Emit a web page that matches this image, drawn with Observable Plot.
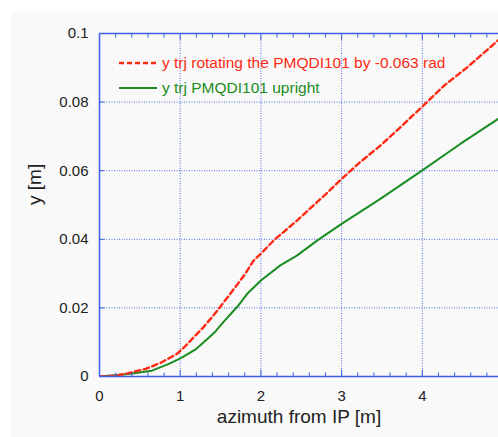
<!DOCTYPE html>
<html><head><meta charset="utf-8">
<script src="https://cdn.jsdelivr.net/npm/d3@7"></script>
<script src="https://cdn.jsdelivr.net/npm/@observablehq/plot@0.6"></script>
<style>
html,body{margin:0;padding:0;background:#fff;overflow:hidden;width:498px;height:437px;}
#wrap{position:relative;width:498px;height:437px;overflow:hidden;}
#panel{position:absolute;left:11px;top:11px;right:0;bottom:0;background:#f9f9f9;}
#chart{position:absolute;left:0;top:0;}
#legend{position:absolute;left:119px;top:50.5px;font:15.5px "Liberation Sans",Arial,sans-serif;}
#legend .row{display:flex;align-items:center;height:25px;white-space:nowrap;}
#legend svg{margin-right:5px;}
</style></head><body>
<div id="wrap"><div id="panel"></div><div id="chart"></div><div id="legend"></div></div>
<script>
// Series: y trajectory rotating the PMQDI101 by -0.063 rad (red dashed)
const redX = [0, 0.2, 0.36, 0.57, 0.76, 0.96, 1.07, 1.19, 1.29, 1.46, 1.62, 1.79, 1.91, 2.0, 2.16, 2.28, 2.45, 2.61, 2.82, 3.0, 3.23, 3.48, 3.73, 4.0, 4.27, 4.56, 4.89, 5.0];
const redY = [0, 0.0002, 0.001, 0.0022, 0.004, 0.0066, 0.009, 0.012, 0.0144, 0.0192, 0.0241, 0.0294, 0.0338, 0.0358, 0.0397, 0.0421, 0.0455, 0.049, 0.0535, 0.0576, 0.0625, 0.0673, 0.0727, 0.0787, 0.0848, 0.0902, 0.097, 0.0993];
// Series: y trajectory PMQDI101 upright (green solid)
const greenX = [0, 0.36, 0.65, 0.86, 1.02, 1.19, 1.35, 1.44, 1.54, 1.71, 1.83, 2.0, 2.24, 2.45, 2.7, 3.0, 3.48, 4.0, 4.47, 4.94, 5.0];
const greenY = [0, 0.0007, 0.0017, 0.0037, 0.0055, 0.0079, 0.0112, 0.0132, 0.016, 0.0204, 0.0241, 0.028, 0.0324, 0.0353, 0.0397, 0.0445, 0.0518, 0.0601, 0.0678, 0.0751, 0.076];
const seriesNames = ["y trj rotating the PMQDI101 by -0.063 rad", "y trj PMQDI101 upright"];
// Ticks
const xTicks = [0, 1, 2, 3, 4];
const xTickLabels = ["0", "1", "2", "3", "4"];
const xMinorTicks = [0.2,0.4,0.6,0.8,1.2,1.4,1.6,1.8,2.2,2.4,2.6,2.8,3.2,3.4,3.6,3.8,4.2,4.4,4.6,4.8];
const yTicks = [0, 0.02, 0.04, 0.06, 0.08, 0.1];
const yTickLabels = ["0", "0.02", "0.04", "0.06", "0.08", "0.1"];
const xLabel = "azimuth from IP [m]";
const yLabel = "y [m]";

const blue = "#3d5ee6";
const red = "#ff2a14";
const green = "#1b8c22";
const font = "'Liberation Sans', Arial, Helvetica, sans-serif";

const redData = redX.map((x, i) => ({x, y: redY[i]}));
const greenData = greenX.map((x, i) => ({x, y: greenY[i]}));

const chart = Plot.plot({
  width: 498, height: 437,
  marginLeft: 99, marginTop: 33, marginBottom: 61, marginRight: 0,
  x: {domain: [0, 4.944]},
  y: {domain: [0, 0.1]},
  style: {background: "transparent", fontFamily: font, fontSize: "15px", color: "#222", overflow: "visible"},
  marks: [
    Plot.gridX(xTicks.slice(1), {stroke: blue, strokeOpacity: 0.9, strokeDasharray: "1,1.5", strokeWidth: 1}),
    Plot.gridY(yTicks.slice(1, -1), {stroke: blue, strokeOpacity: 0.9, strokeDasharray: "1,1.5", strokeWidth: 1}),
    Plot.line(greenData, {x: "x", y: "y", stroke: green, strokeWidth: 2, clip: true}),
    Plot.line(redData, {x: "x", y: "y", stroke: red, strokeWidth: 2.4, strokeDasharray: "5.5,3.5", clip: true}),
    Plot.ruleX([0], {stroke: blue, strokeWidth: 1.5}),
    Plot.ruleY([0, 0.1], {stroke: blue, strokeWidth: 1.5}),
    Plot.axisX(xTicks, {anchor: "bottom", tickSize: -6, text: null, stroke: blue, label: null}),
    Plot.axisX(xMinorTicks, {anchor: "bottom", tickSize: -3.5, text: null, stroke: blue, label: null}),
    Plot.axisX(xTicks, {anchor: "top", tickSize: -6, text: null, stroke: blue, label: null}),
    Plot.axisX(xMinorTicks, {anchor: "top", tickSize: -3.5, text: null, stroke: blue, label: null}),
    Plot.axisY(yTicks, {anchor: "left", tickSize: -5, text: null, stroke: blue, label: null}),
    Plot.axisX(xTicks, {anchor: "bottom", tickSize: 0, tickPadding: 14, fontSize: 15, tickFormat: d => xTickLabels[xTicks.indexOf(d)], label: null, fill: "#222"}),
    Plot.axisY(yTicks, {anchor: "left", tickSize: 0, tickPadding: 11, fontSize: 15, tickFormat: d => yTickLabels[yTicks.indexOf(d)], label: null, fill: "#222"}),
    Plot.text([xLabel], {frameAnchor: "bottom", dy: 46, fontSize: 19, fill: "#222"}),
    Plot.text([yLabel], {frameAnchor: "left", dx: -65, rotate: -90, fontSize: 19, fill: "#222"})
  ]
});
document.getElementById("chart").appendChild(chart);

const legend = document.getElementById("legend");
const legendStyles = [
  {color: red, dash: "5,3", width: 2.4},
  {color: green, dash: null, width: 2}
];
seriesNames.forEach((name, i) => {
  const s = legendStyles[i];
  const row = document.createElement("div");
  row.className = "row";
  row.innerHTML = `<svg width="38" height="6"><line x1="0" y1="3" x2="38" y2="3" stroke="${s.color}" stroke-width="${s.width}" ${s.dash ? `stroke-dasharray="${s.dash}"` : ""}/></svg><span style="color:${s.color}">${name}</span>`;
  legend.appendChild(row);
});
</script>
</body></html>
